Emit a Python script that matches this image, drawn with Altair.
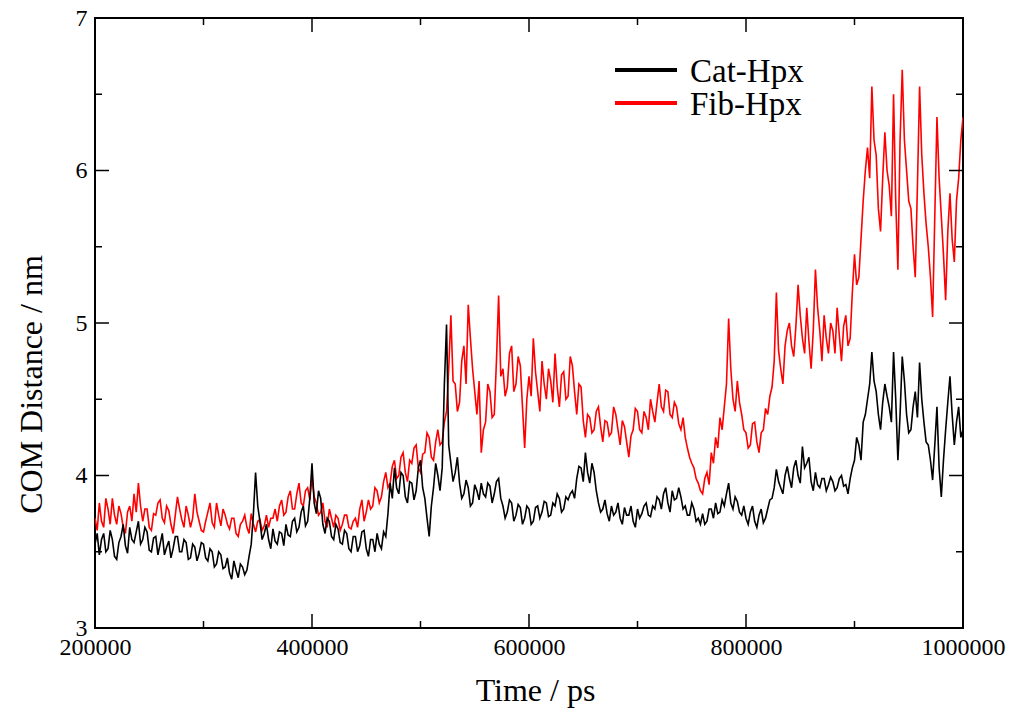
import altair as alt
import pandas as pd

t_start = 200000
t_step = 2000

cat_hpx = [
    3.55, 3.62, 3.48, 3.58, 3.62, 3.50, 3.52, 3.64, 3.58, 3.47, 3.45, 3.56, 3.60, 3.68, 3.54, 3.49, 3.66, 3.58, 3.56, 3.63,
    3.70, 3.55, 3.58, 3.66, 3.63, 3.51, 3.50, 3.59, 3.60, 3.48, 3.55, 3.62, 3.48, 3.53, 3.57, 3.46, 3.52, 3.60, 3.60, 3.50,
    3.50, 3.58, 3.56, 3.45, 3.46, 3.55, 3.53, 3.44, 3.49, 3.56, 3.55, 3.46, 3.44, 3.52, 3.50, 3.40, 3.42, 3.50, 3.48, 3.39,
    3.40, 3.46, 3.36, 3.32, 3.44, 3.38, 3.33, 3.42, 3.40, 3.35, 3.38, 3.47, 3.55, 3.75, 4.02, 3.80, 3.70, 3.58, 3.62, 3.68,
    3.58, 3.52, 3.65, 3.57, 3.55, 3.63, 3.62, 3.54, 3.68, 3.61, 3.60, 3.70, 3.72, 3.63, 3.66, 3.76, 3.80, 3.67, 3.70, 3.85,
    4.08, 3.82, 3.75, 3.90, 3.85, 3.68, 3.62, 3.72, 3.70, 3.60, 3.58, 3.68, 3.65, 3.56, 3.55, 3.64, 3.62, 3.52, 3.50, 3.60,
    3.60, 3.50, 3.54, 3.63, 3.64, 3.52, 3.47, 3.58, 3.58, 3.50, 3.62, 3.55, 3.52, 3.63, 3.60, 3.75, 3.95, 3.85, 4.05, 3.92,
    3.88, 4.02, 4.00, 3.86, 3.82, 3.96, 3.95, 3.84, 3.90, 4.05, 4.10, 3.92, 3.85, 3.72, 3.60, 3.80, 3.92, 4.08, 4.00, 3.90,
    4.05, 4.60, 4.99, 4.20, 4.08, 3.96, 4.02, 4.12, 3.95, 3.85, 3.88, 3.97, 3.92, 3.80, 3.82, 3.94, 3.90, 3.84, 3.95, 3.88,
    3.86, 3.95, 3.93, 3.82, 3.88, 3.96, 3.98, 3.85, 3.80, 3.72, 3.76, 3.84, 3.82, 3.70, 3.74, 3.81, 3.79, 3.68, 3.72, 3.80,
    3.78, 3.68, 3.70, 3.79, 3.80, 3.72, 3.76, 3.83, 3.82, 3.73, 3.74, 3.82, 3.80, 3.88, 3.85, 3.76, 3.78, 3.86, 3.84, 3.88,
    3.90, 3.85, 3.98, 4.06, 4.05, 3.96, 4.15, 4.02, 3.95, 4.08, 4.02, 3.90, 3.82, 3.76, 3.78, 3.84, 3.75, 3.70, 3.80, 3.74,
    3.76, 3.82, 3.72, 3.68, 3.79, 3.74, 3.74, 3.80, 3.70, 3.66, 3.78, 3.72, 3.75, 3.80, 3.82, 3.74, 3.73, 3.80, 3.78, 3.86,
    3.84, 3.78, 3.88, 3.92, 3.82, 3.76, 3.90, 3.84, 3.85, 3.92, 3.86, 3.78, 3.80, 3.74, 3.74, 3.82, 3.78, 3.70, 3.72, 3.68,
    3.75, 3.68, 3.70, 3.78, 3.78, 3.72, 3.82, 3.75, 3.76, 3.84, 3.80, 3.88, 3.95, 3.82, 3.78, 3.86, 3.83, 3.76, 3.74, 3.80,
    3.72, 3.68, 3.76, 3.80, 3.70, 3.66, 3.74, 3.78, 3.69, 3.72, 3.78, 3.84, 3.85, 3.92, 4.04, 3.96, 3.92, 3.88, 4.00, 4.06,
    3.98, 3.92, 4.05, 4.10, 4.00, 3.95, 4.19, 4.05, 4.08, 4.12, 3.96, 3.90, 4.02, 3.94, 3.92, 3.98, 3.98, 3.90, 3.94, 3.99,
    3.96, 3.90, 3.92, 3.98, 4.00, 3.93, 3.94, 3.88, 3.98, 4.05, 4.10, 4.25, 4.20, 4.10, 4.35, 4.40, 4.50, 4.60, 4.81, 4.62,
    4.55, 4.40, 4.30, 4.48, 4.60, 4.52, 4.45, 4.35, 4.81, 4.50, 4.10, 4.40, 4.78, 4.62, 4.40, 4.28, 4.30, 4.45, 4.55, 4.38,
    4.74, 4.50, 4.35, 4.22, 4.20, 4.10, 3.97, 4.20, 4.45, 4.05, 3.86, 4.10, 4.30, 4.48, 4.65, 4.40, 4.20, 4.35, 4.45, 4.25,
    4.30,
]

fib_hpx = [
    3.72, 3.64, 3.82, 3.70, 3.66, 3.85, 3.78, 3.68, 3.85, 3.74, 3.68, 3.80, 3.75, 3.66, 3.62, 3.76, 3.80, 3.70, 3.88, 3.76,
    3.95, 3.80, 3.70, 3.78, 3.78, 3.66, 3.64, 3.75, 3.74, 3.82, 3.84, 3.72, 3.69, 3.80, 3.77, 3.68, 3.62, 3.74, 3.86, 3.78,
    3.71, 3.66, 3.80, 3.74, 3.66, 3.72, 3.88, 3.76, 3.70, 3.64, 3.63, 3.70, 3.76, 3.82, 3.69, 3.66, 3.82, 3.74, 3.67, 3.78,
    3.74, 3.68, 3.65, 3.72, 3.72, 3.62, 3.60, 3.68, 3.70, 3.74, 3.66, 3.62, 3.75, 3.68, 3.63, 3.70, 3.71, 3.64, 3.67, 3.74,
    3.66, 3.72, 3.72, 3.78, 3.70, 3.80, 3.84, 3.74, 3.76, 3.86, 3.90, 3.78, 3.78, 3.88, 3.95, 3.82, 3.80, 3.90, 3.92, 3.84,
    3.99, 3.86, 3.82, 3.74, 3.76, 3.82, 3.70, 3.66, 3.78, 3.72, 3.66, 3.74, 3.72, 3.64, 3.68, 3.74, 3.74, 3.66, 3.65, 3.70,
    3.72, 3.66, 3.78, 3.84, 3.70, 3.76, 3.84, 3.78, 3.80, 3.92, 3.90, 3.82, 3.86, 3.96, 4.02, 3.92, 3.95, 4.06, 4.10, 3.98,
    4.00, 4.12, 4.15, 4.02, 3.96, 4.10, 4.08, 4.18, 4.20, 4.05, 4.02, 4.14, 4.15, 4.28, 4.25, 4.12, 4.10, 4.22, 4.30, 4.20,
    4.22, 4.35, 4.42, 4.70, 5.05, 4.62, 4.60, 4.42, 4.48, 4.75, 4.85, 4.60, 5.12, 4.90, 4.70, 4.55, 4.40, 4.62, 4.15, 4.30,
    4.35, 4.60, 4.55, 4.38, 4.40, 4.75, 5.18, 4.65, 4.70, 4.52, 4.58, 4.80, 4.85, 4.55, 4.60, 4.78, 4.72, 4.45, 4.18, 4.50,
    4.65, 4.52, 4.90, 4.68, 4.55, 4.42, 4.75, 4.60, 4.50, 4.70, 4.62, 4.48, 4.80, 4.58, 4.45, 4.66, 4.68, 4.50, 4.52, 4.78,
    4.72, 4.55, 4.40, 4.60, 4.58, 4.36, 4.25, 4.40, 4.38, 4.28, 4.30, 4.42, 4.45, 4.32, 4.22, 4.36, 4.35, 4.26, 4.28, 4.45,
    4.40, 4.30, 4.20, 4.36, 4.32, 4.22, 4.12, 4.26, 4.30, 4.44, 4.42, 4.30, 4.28, 4.42, 4.38, 4.30, 4.50, 4.42, 4.35, 4.48,
    4.60, 4.45, 4.42, 4.56, 4.55, 4.40, 4.38, 4.48, 4.45, 4.34, 4.30, 4.38, 4.25, 4.18, 4.12, 4.08, 4.05, 3.98, 3.95, 3.90,
    3.88, 3.98, 4.02, 3.94, 4.15, 4.08, 4.25, 4.18, 4.38, 4.30, 4.45, 4.60, 5.03, 4.70, 4.50, 4.42, 4.62, 4.48, 4.40, 4.30,
    4.28, 4.18, 4.20, 4.34, 4.35, 4.22, 4.15, 4.28, 4.30, 4.44, 4.40, 4.52, 4.58, 4.75, 5.20, 4.82, 4.70, 4.60, 4.85, 4.95,
    5.00, 4.85, 4.78, 4.98, 5.25, 5.05, 4.90, 4.80, 5.10, 4.88, 4.70, 4.95, 5.35, 5.10, 4.95, 4.75, 5.05, 4.90, 4.80, 5.00,
    4.95, 4.80, 5.10, 4.92, 4.75, 4.98, 5.05, 4.85, 4.90, 5.20, 5.45, 5.25, 5.30, 5.55, 5.80, 6.00, 6.15, 5.95, 6.55, 6.20,
    6.10, 5.75, 5.60, 5.95, 6.25, 6.00, 5.90, 5.70, 6.50, 5.80, 5.35, 6.20, 6.66, 6.20, 6.00, 5.80, 5.75, 5.50, 5.30, 5.90,
    6.55, 6.10, 5.85, 5.65, 5.50, 5.30, 5.04, 5.70, 6.35, 5.95, 5.70, 5.45, 5.15, 5.60, 5.85, 5.55, 5.40, 5.80, 5.95, 6.20,
    6.35,
]

series = ["Cat-Hpx", "Fib-Hpx"]
colors = ["#000000", "#ff0000"]

x_major = [200000, 400000, 600000, 800000, 1000000]
x_minor = [300000, 500000, 700000, 900000]
y_major = [3, 4, 5, 6, 7]
y_minor = [3.5, 4.5, 5.5, 6.5]

# ---- layout / style ----
W, H = 868, 610
FONT = "Liberation Serif"
MAJ, MIN = 14, 7

df_cat = pd.DataFrame({"time": [t_start + t_step * i for i in range(len(cat_hpx))], "value": cat_hpx})
df_fib = pd.DataFrame({"time": [t_start + t_step * i for i in range(len(fib_hpx))], "value": fib_hpx})

xs = alt.Scale(domain=[200000, 1000000], nice=False, zero=False)
ys = alt.Scale(domain=[3, 7], nice=False, zero=False)

x_axis = alt.Axis(values=x_major, format="d", grid=False, ticks=False, tickSize=0,
                  domain=False, labelFont=FONT, labelFontSize=24, labelColor="black",
                  labelPadding=7, labelFlush=False, labelOverlap=False,
                  title="Time / ps", titleFont=FONT, titleFontSize=32,
                  titleFontWeight="normal", titleColor="black",
                  titleX=440, titleY=72, titleAlign="center", titleBaseline="alphabetic")
y_axis = alt.Axis(values=y_major, format="d", grid=False, ticks=False, tickSize=0,
                  domain=False, labelFont=FONT, labelFontSize=24, labelColor="black",
                  labelPadding=8, labelFlush=False, labelOverlap=False,
                  title="COM Distance / nm", titleFont=FONT, titleFontSize=32,
                  titleFontWeight="normal", titleColor="black", titleAngle=270,
                  titleX=-54, titleY=366, titleAlign="center", titleBaseline="alphabetic")

X = alt.X("time:Q", scale=xs, axis=x_axis)
Y = alt.Y("value:Q", scale=ys, axis=y_axis)

fib_line = alt.Chart(df_fib).mark_line(color=colors[1], strokeWidth=1.6, clip=True).encode(x=X, y=Y)
cat_line = alt.Chart(df_cat).mark_line(color=colors[0], strokeWidth=1.6, clip=True).encode(x=X, y=Y)

def xticks(vals, length, top):
    d = pd.DataFrame({"time": vals})
    if top:
        yy, yy2 = alt.value(0), alt.value(length)
    else:
        yy, yy2 = alt.value(H), alt.value(H - length)
    return alt.Chart(d).mark_rule(color="black", strokeWidth=1.5).encode(x=X, y=yy, y2=yy2)

def yticks(vals, length, right):
    d = pd.DataFrame({"value": vals})
    if right:
        xx, xx2 = alt.value(W), alt.value(W - length)
    else:
        xx, xx2 = alt.value(0), alt.value(length)
    return alt.Chart(d).mark_rule(color="black", strokeWidth=1.5).encode(y=Y, x=xx, x2=xx2)

ticks = [
    xticks(x_major, MAJ, False), xticks(x_minor, MIN, False),
    xticks(x_major, MAJ, True), xticks(x_minor, MIN, True),
    yticks(y_major, MAJ, False), yticks(y_minor, MIN, False),
    yticks(y_major, MAJ, True), yticks(y_minor, MIN, True),
]

# ---- legend (drawn manually) ----
leg_y = [52, 85]
legend_layers = []
for i, name in enumerate(series):
    d = pd.DataFrame({"label": [name]})
    legend_layers.append(
        alt.Chart(d).mark_rule(color=colors[i], strokeWidth=4).encode(
            x=alt.value(520), x2=alt.value(582), y=alt.value(leg_y[i])))
    legend_layers.append(
        alt.Chart(d).mark_text(align="left", baseline="middle", font=FONT,
                               fontSize=33, color="black").encode(
            x=alt.value(595), y=alt.value(leg_y[i] + 2), text="label:N"))

chart = alt.layer(fib_line, cat_line, *ticks, *legend_layers).properties(
    width=W, height=H,
    padding={"left": 95, "top": 18, "right": 48, "bottom": 87},
    autosize=alt.AutoSizeParams(type="none"),
    background="white",
).configure_view(stroke="black", strokeWidth=2
).configure_axis(labelFont=FONT, titleFont=FONT)

chart.save("out.html", embed_options={"renderer": "svg", "actions": False})
